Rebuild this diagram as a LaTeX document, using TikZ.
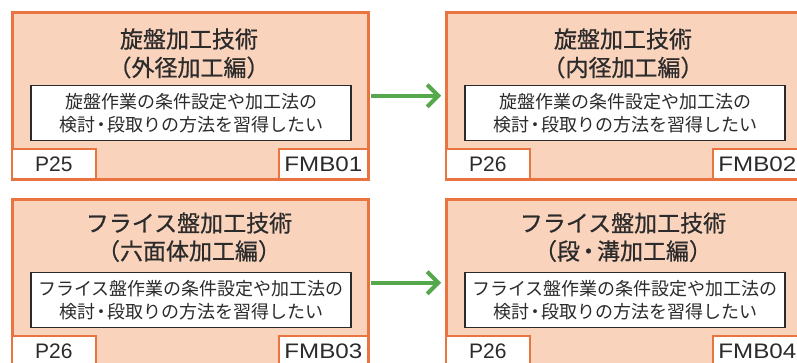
\documentclass[tikz,border=0pt]{standalone}
\usepackage{fontspec}
\setmainfont{Liberation Sans}
\newfontfamily\jp{Noto Sans CJK JP}
\newfontfamily\jpt[FakeBold=0.7]{Noto Sans CJK JP}
\usetikzlibrary{arrows.meta}
\definecolor{peach}{HTML}{FAD3BD}
\definecolor{orng}{HTML}{EA7440}
\definecolor{grn}{HTML}{55A84B}
\definecolor{ink}{HTML}{2B2B2B}
\begin{document}
\begin{tikzpicture}[x=1pt,y=-1pt,
  card/.style={draw=orng, fill=peach, line width=2.5pt, minimum width=356pt, minimum height=167pt, anchor=north west, inner sep=0pt},
  title/.style={font=\jpt\fontsize{23}{28}\selectfont, text=ink, inner sep=0pt},
  descbox/.style={draw=ink, fill=white, line width=1.6pt, minimum width=320pt, minimum height=55pt, inner sep=0pt, align=center, font=\jp\fontsize{18}{22.5}\selectfont, text=ink},
  tagbox/.style={draw=orng, fill=white, line width=1.6pt, minimum height=30pt, inner sep=0pt, anchor=north west, font=\fontsize{21}{24}\selectfont, text=ink},
  flow/.style={draw=grn, line width=4pt, -{Straight Barb[length=11pt,width=22pt]}, shorten >=4pt, shorten <=1pt}
]
\useasboundingbox (0,0) rectangle (797,362);
\clip (0,0) rectangle (797,362);
\fill[white] (0,0) rectangle (797,362);

% top-left
\node[card] (c1) at (11,11) {};
\node[title] (t1a) at (189,39) {旋盤加工技術};
\node[title] (t1b) at (189,67.5) {（外径加工編）};
\node[descbox] (d1) at (191,113) {旋盤作業の条件設定や加工法の\\検討\kern-3pt・\kern-3pt段取りの方法を習得したい};
\node[tagbox, minimum width=84pt] (p1) at (11,148) {P25};
\node[tagbox, minimum width=89pt] (f1) at (278,148) {\scalebox{1.15}[1]{FMB01}};

% top-right
\node[card] (c2) at (445,11) {};
\node[title] (t2a) at (623,39) {旋盤加工技術};
\node[title] (t2b) at (623,67.5) {（内径加工編）};
\node[descbox] (d2) at (625,113) {旋盤作業の条件設定や加工法の\\検討\kern-3pt・\kern-3pt段取りの方法を習得したい};
\node[tagbox, minimum width=84pt] (p2) at (445,148) {P26};
\node[tagbox, minimum width=89pt] (f2) at (712,148) {\scalebox{1.15}[1]{FMB02}};

% bottom-left
\node[card] (c3) at (11,198) {};
\node[title] (t3a) at (189,223) {フライス盤加工技術};
\node[title] (t3b) at (189,251) {（六面体加工編）};
\node[descbox] (d3) at (191,300) {フライス盤作業の条件設定や加工法の\\検討\kern-3pt・\kern-3pt段取りの方法を習得したい};
\node[tagbox, minimum width=84pt] (p3) at (11,335) {P26};
\node[tagbox, minimum width=89pt] (f3) at (278,335) {\scalebox{1.15}[1]{FMB03}};

% bottom-right
\node[card] (c4) at (445,198) {};
\node[title] (t4a) at (623,223) {フライス盤加工技術};
\node[title] (t4b) at (623,251) {（段\kern-3pt・\kern-3pt溝加工編）};
\node[descbox] (d4) at (625,300) {フライス盤作業の条件設定や加工法の\\検討\kern-3pt・\kern-3pt段取りの方法を習得したい};
\node[tagbox, minimum width=84pt] (p4) at (445,335) {P26};
\node[tagbox, minimum width=89pt] (f4) at (712,335) {\scalebox{1.15}[1]{FMB04}};

% arrows
\draw[flow] (c1.east) -- (c2.west);
\draw[flow] (c3.east) -- (c4.west);
\end{tikzpicture}
\end{document}
